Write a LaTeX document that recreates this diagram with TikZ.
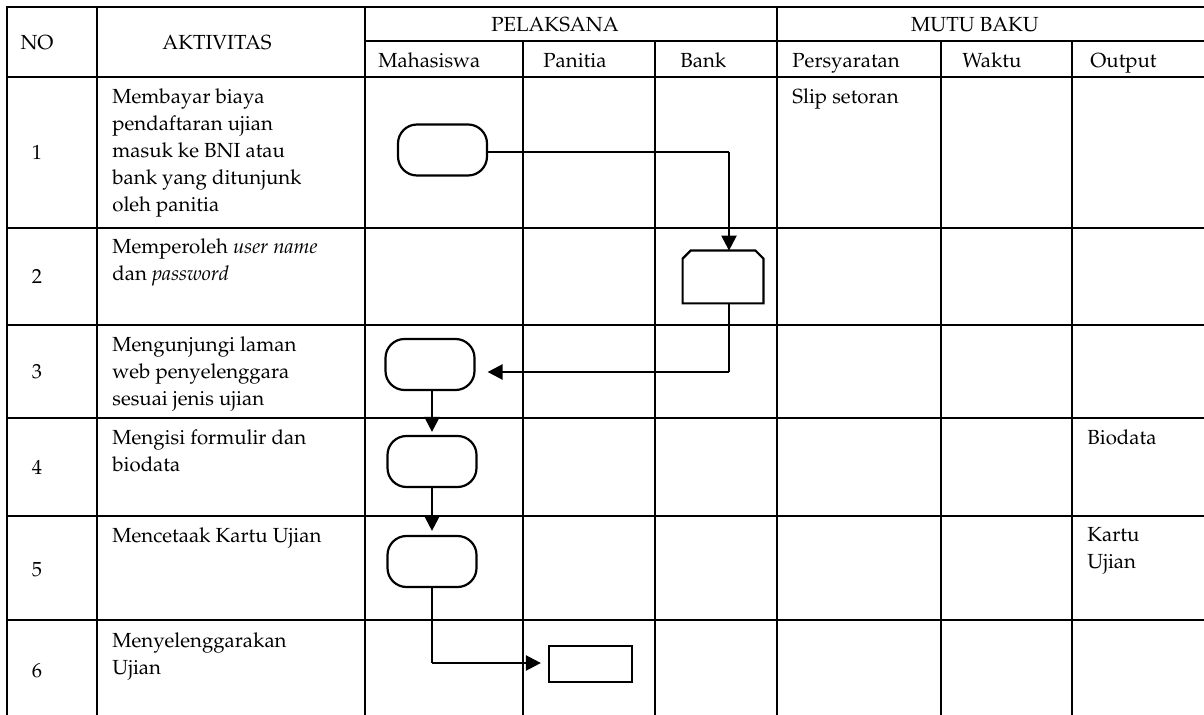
\documentclass[tikz,border=0pt]{standalone}
\usepackage[T1]{fontenc}
\usepackage{mathpazo}
\usetikzlibrary{arrows.meta}

\begin{document}
\begin{tikzpicture}[
      x=0.5pt, y=-0.5pt,
      every node/.style={font=\fontsize{10.2}{13.5}\selectfont, inner sep=0pt},
      grid/.style={line width=1.1pt, line cap=rect},
      txt/.style={anchor=north west, align=left},
      head/.style={anchor=base},
      col/.style={anchor=base west},
      terminal/.style={draw, line width=1.1pt, rounded corners=9.5pt, minimum width=44.5pt, minimum height=25.5pt},
      manual/.style={minimum width=40pt, minimum height=26pt},
      outline/.style={line width=1.1pt, line join=miter},
      process/.style={draw, line width=1.1pt, minimum width=41.5pt, minimum height=18pt},
      link/.style={line width=0.6pt},
      flow/.style={line width=1.2pt, -{Triangle[length=7.5pt,width=7.5pt]}}
    ]
    \useasboundingbox (0,0) rectangle (1204,715);
    % Draw the grid.
    \foreach \y in {7,77,228,325,418,516,620} \draw[grid] (7,\y) -- (1204,\y);
    \draw[grid] (365,41) -- (1204,41);
    \foreach \x in {7,97,365,777} \draw[grid] (\x,7) -- (\x,715);
    \foreach \x in {523,655,941,1072} \draw[grid] (\x,41) -- (\x,715);
    % Header.
    \node[head] (hno) at (37,50) {NO};
    \node[head] (hakt) at (217,50) {AKTIVITAS};
    \node[head] (hpel) at (555,32) {PELAKSANA};
    \node[head] (hmutu) at (975,32) {MUTU BAKU};
    \node[col] (hmhs) at (378,68) {Mahasiswa};
    \node[col] (hpan) at (543,68) {Panitia};
    \node[col] (hbank) at (680,68) {Bank};
    \node[col] (hsyarat) at (792,68) {Persyaratan};
    \node[col] (hwaktu) at (962,68) {Waktu};
    \node[col] (hout) at (1090,68) {Output};
    % Numbers.
    \node[head] (no1) at (37,160) {1};
    \node[head] (no2) at (37,284) {2};
    \node[head] (no3) at (37,379) {3};
    \node[head] (no4) at (37,475) {4};
    \node[head] (no5) at (37,576) {5};
    \node[head] (no6) at (37,677) {6};
    % Activities.
    \node[txt] (act1) at (112,88) {Membayar biaya\\pendaftaran ujian\\masuk ke BNI atau\\bank yang ditunjunk\\oleh panitia};
    \node[txt] (act2) at (112,238) {Memperoleh \textit{user name}\\dan \textit{password}};
    \node[txt] (act3) at (112,336) {Mengunjungi laman\\web penyelenggara\\sesuai jenis ujian};
    \node[txt] (act4) at (112,429) {Mengisi formulir dan\\biodata};
    \node[txt] (act5) at (112,527) {Mencetaak Kartu Ujian};
    \node[txt] (act6) at (112,632) {Menyelenggarakan\\Ujian};
    % Quality columns.
    \node[txt] (slip) at (792,88) {Slip setoran};
    \node[txt] (bio) at (1087,429) {Biodata};
    \node[txt] (kartu) at (1087,527) {Kartu\\Ujian};
    % Draw the symbols.
    \node[terminal] (t1) at (442.5,150) {};
    \node[manual] (b2) at (723,277) {};
    \draw[outline] (b2.south west) -- ([yshift=-4pt]b2.north west) -- ([xshift=4pt]b2.north west)
      -- ([xshift=-4pt]b2.north east) -- ([yshift=-4pt]b2.north east) -- (b2.south east) -- cycle;
    \node[terminal] (t3) at (430,364.5) {};
    \node[terminal] (t4) at (432,461.5) {};
    \node[terminal] (t5) at (432,561.5) {};
    \node[process] (r6) at (590.5,664) {};
    % Draw the flow.
    \coordinate (k1) at (729,152);
    \draw[link] (t1.east |- k1) -- (k1);
    \draw[flow] (k1) -- (k1 |- b2.north);
    \coordinate (k2) at (729,372);
    \draw[link] (k2 |- b2.south) -- (k2);
    \draw[flow, shorten >=6pt] (k2) -- (k2 -| t3.east);
    \draw[flow, shorten >=1.5pt] (t4.north |- t3.south) -- (t4.north);
    \draw[flow, shorten >=2pt] (t4.south) -- (t5.north);
    \coordinate (k3) at (432,663);
    \draw[link] (t5.south) -- (k3);
    \draw[flow, shorten >=3.5pt] (k3) -- (k3 -| r6.west);
\end{tikzpicture}
\end{document}
